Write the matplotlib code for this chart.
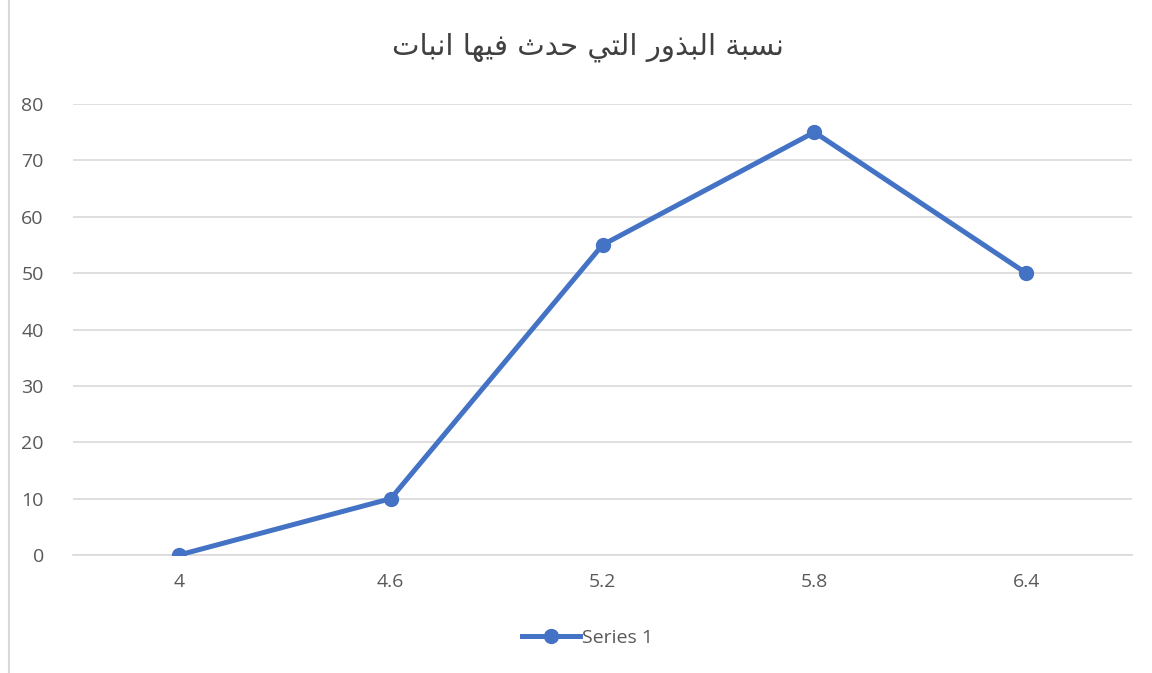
import matplotlib
matplotlib.use('Agg')
import matplotlib.pyplot as plt
from matplotlib.lines import Line2D

categories = ['4', '4.6', '5.2', '5.8', '6.4']
values = [0, 10, 55, 75, 50]
series_name = 'Series 1'
title = 'نسبة البذور التي حدث فيها انبات'

# presentation forms: isolated, final, initial, medial
FORMS = {
    'ا': ('\uFE8D', '\uFE8E', None, None),
    'ب': ('\uFE8F', '\uFE90', '\uFE91', '\uFE92'),
    'ة': ('\uFE93', '\uFE94', None, None),
    'ت': ('\uFE95', '\uFE96', '\uFE97', '\uFE98'),
    'ث': ('\uFE99', '\uFE9A', '\uFE9B', '\uFE9C'),
    'ح': ('\uFEA1', '\uFEA2', '\uFEA3', '\uFEA4'),
    'د': ('\uFEA9', '\uFEAA', None, None),
    'ذ': ('\uFEAB', '\uFEAC', None, None),
    'ر': ('\uFEAD', '\uFEAE', None, None),
    'س': ('\uFEB1', '\uFEB2', '\uFEB3', '\uFEB4'),
    'ف': ('\uFED1', '\uFED2', '\uFED3', '\uFED4'),
    'ل': ('\uFEDD', '\uFEDE', '\uFEDF', '\uFEE0'),
    'ن': ('\uFEE5', '\uFEE6', '\uFEE7', '\uFEE8'),
    'ه': ('\uFEE9', '\uFEEA', '\uFEEB', '\uFEEC'),
    'و': ('\uFEED', '\uFEEE', None, None),
    'ي': ('\uFEF1', '\uFEF2', '\uFEF3', '\uFEF4'),
}


def dual(ch):
    return ch in FORMS and FORMS[ch][2] is not None


def shape_arabic(text):
    out = []
    for i, ch in enumerate(text):
        if ch not in FORMS:
            out.append(ch)
            continue
        prev_join = i > 0 and dual(text[i - 1])
        next_join = i < len(text) - 1 and text[i + 1] in FORMS and dual(ch)
        iso, fin, ini, med = FORMS[ch]
        if prev_join and next_join:
            out.append(med)
        elif prev_join:
            out.append(fin)
        elif next_join:
            out.append(ini)
        else:
            out.append(iso)
    return ''.join(out)[::-1]


def main():
    text_color = '#595959'
    line_color = '#4472C4'

    fig = plt.figure(figsize=(11.52, 6.73), dpi=100)
    ax = fig.add_axes([0.0634, 0.1753, 0.9193, 0.6702])

    x = range(len(categories))
    ax.plot(x, values, color=line_color, linewidth=3.6, marker='o',
            markersize=10, solid_capstyle='round', solid_joinstyle='round',
            zorder=3)

    ax.set_xlim(-0.5, len(categories) - 0.5)
    ax.set_ylim(0, 80)
    ax.set_yticks(range(0, 81, 10))
    ax.set_xticks(list(x))
    ax.set_xticklabels(categories)
    ax.yaxis.grid(True, color='#D9D9D9', linewidth=1.2)
    ax.set_axisbelow(True)
    for s in ['left', 'right', 'top']:
        ax.spines[s].set_visible(False)
    ax.spines['bottom'].set_color('#D9D9D9')
    ax.spines['bottom'].set_linewidth(1.2)
    ax.tick_params(axis='both', length=0, labelsize=14, labelcolor=text_color,
                   labelfontfamily='Open Sans')
    ax.tick_params(axis='y', pad=21)
    ax.tick_params(axis='x', pad=13)

    fig.text(0.51, 0.93, shape_arabic(title), ha='center', va='center',
             fontsize=21, color='#404040', family='DejaVu Sans')

    handle = Line2D([], [], color=line_color, linewidth=3.6, marker='o',
                    markersize=10)
    fig.legend([handle], [series_name], loc='center', bbox_to_anchor=(0.51, 0.052),
               frameon=False, handlelength=3.0, handletextpad=0.1,
               prop={'family': 'Open Sans', 'size': 14}, labelcolor=text_color)

    fig.add_artist(Line2D([9 / 1152, 9 / 1152], [0, 1], transform=fig.transFigure,
                          color='#D9D9D9', linewidth=1.5))

    fig.savefig('out.png', dpi=100)


if __name__ == '__main__':
    main()
